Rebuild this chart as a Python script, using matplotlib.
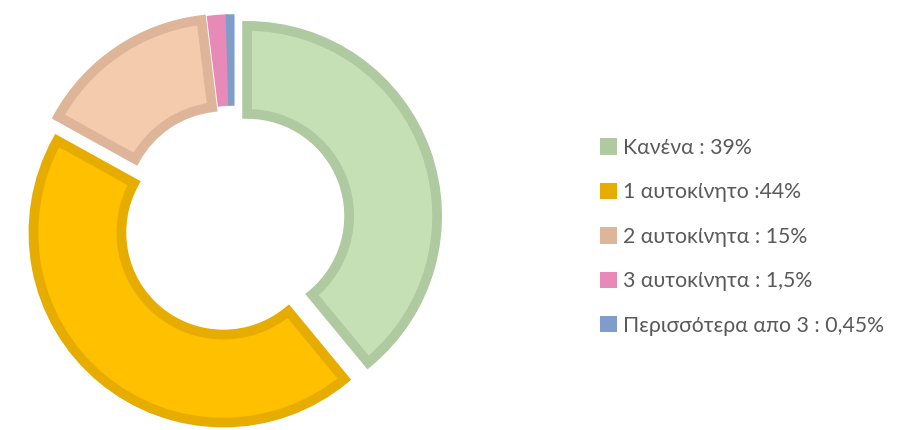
import matplotlib.pyplot as plt
import matplotlib.patches as mpatches

# values in percent
labels = ['Κανένα : 39%', '1 αυτοκίνητο :44%', '2 αυτοκίνητα : 15%',
          '3 αυτοκίνητα : 1,5%', 'Περισσότερα απο 3 : 0,45%']
values = [39, 44, 15, 1.5, 0.45]
face_colors = ['#C5E0B4', '#FFC000', '#F5CBAE', '#E78AB8', '#7F9DCA']
edge_colors = ['#AFC9A0', '#E6AD00', '#DFB59A', '#E78AB8', '#7F9DCA']

fig = plt.figure(figsize=(9.1, 4.3), dpi=100)
ax = fig.add_axes([0, 0, 1, 1])

wedges, _ = ax.pie(values, colors=face_colors, startangle=90, counterclock=False,
                   center=(233, 209), radius=190, explode=[15] * len(values),
                   wedgeprops=dict(width=88, linewidth=7, joinstyle='miter'),
                   frame=True)
for w, ec in zip(wedges, edge_colors):
    w.set_edgecolor(ec)
# the two thin slices have no visible border
for w in wedges[3:]:
    w.set_linewidth(2.5)
ax.set_xlim(0, 910)
ax.set_ylim(0, 430)
ax.axis('off')

handles = [mpatches.Patch(facecolor=ec, edgecolor='none') for ec in edge_colors]
leg = ax.legend(handles, labels, loc='upper left', bbox_to_anchor=(600 / 910, 1 - 138 / 430),
                frameon=False, handlelength=0.8, handleheight=0.8,
                handletextpad=0.3, labelspacing=1.15, borderpad=0, borderaxespad=0,
                prop={'family': 'Lato', 'size': 15.3})
for t in leg.get_texts():
    t.set_color('#595959')

fig.savefig('out.png', dpi=100)
